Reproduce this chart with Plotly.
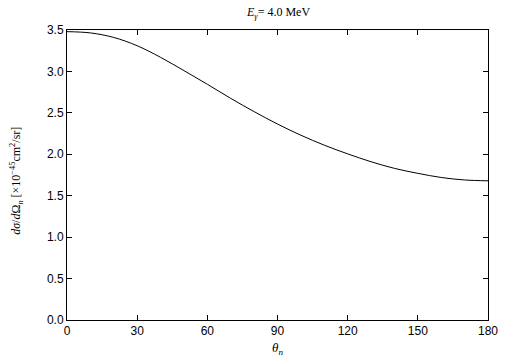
import plotly.graph_objects as go

theta = [0, 10, 20, 30, 40, 50, 60, 70, 80, 90, 100, 110, 120, 130, 140, 150, 160, 170, 180]
dsigma = [3.48, 3.465, 3.41, 3.31, 3.17, 3.01, 2.845, 2.675, 2.515, 2.365, 2.23, 2.11, 2.005,
          1.91, 1.83, 1.77, 1.72, 1.69, 1.68]

x_ticks = [0, 30, 60, 90, 120, 150, 180]
y_ticks = [0.0, 0.5, 1.0, 1.5, 2.0, 2.5, 3.0, 3.5]

L, R, T, B, W, H = 67, 17, 30, 41, 505, 361
pw, ph = W - L - R, H - T - B

fig = go.Figure()
fig.add_trace(go.Scatter(x=theta, y=dsigma, mode="lines",
                         line=dict(color="black", width=1, shape="spline", smoothing=1.0),
                         showlegend=False, hoverinfo="skip"))

axis_common = dict(showline=True, linecolor="black", linewidth=1, mirror="ticks", ticks="inside",
                   ticklen=5, tickcolor="black", tickwidth=1, showgrid=False, zeroline=False,
                   automargin=False,
                   tickfont=dict(family="Liberation Sans, Arial, sans-serif", size=12, color="black"))

serif = "Liberation Serif, Times New Roman, serif"

fig.update_layout(
    width=W, height=H,
    margin=dict(l=L, r=R, t=T, b=B, autoexpand=False),
    paper_bgcolor="white", plot_bgcolor="white",
    xaxis=dict(range=[0, 180], tickvals=x_ticks, ticktext=[str(v) for v in x_ticks], **axis_common),
    yaxis=dict(range=[0, 3.5], tickvals=y_ticks, ticktext=[f"{v:.1f}" for v in y_ticks], **axis_common),
    annotations=[
        dict(text="<i>E<sub>γ</sub></i>= 4.0 MeV", xref="paper", yref="paper", x=0.5, y=(ph + 17) / ph,
             xanchor="center", yanchor="middle", showarrow=False,
             font=dict(family=serif, size=12, color="black")),
        dict(text="<i>θ<sub>n</sub></i>", xref="paper", yref="paper", x=0.5, y=-28 / ph,
             xanchor="center", yanchor="middle", showarrow=False,
             font=dict(family=serif, size=13, color="black")),
        dict(text="<i>dσ</i>/<i>d</i>Ω<sub><i>n</i></sub> [×10<sup>−45</sup>cm<sup>2</sup>/sr]",
             xref="paper", yref="paper", x=-50 / pw, y=0.48, textangle=-90,
             xanchor="center", yanchor="middle", showarrow=False,
             font=dict(family=serif, size=12, color="black")),
    ],
)

fig.write_html("out.html", config={"displayModeBar": False},
               post_script="document.body.style.margin='0';")
